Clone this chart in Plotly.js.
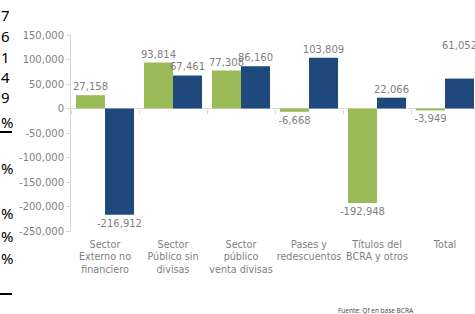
<!DOCTYPE html>
<html>
<head>
<meta charset="utf-8">
<script src="https://cdn.plot.ly/plotly-3.0.1.min.js"></script>
<style>
html,body{margin:0;padding:0;overflow:hidden;background:#fff;}
#chart{width:479px;height:314px;}
</style>
</head>
<body>
<div id="chart"></div>
<script>
var categories = ["Sector<br>Externo no<br>financiero", "Sector<br>Público sin<br>divisas", "Sector<br>público<br>venta divisas", "Pases y<br>redescuentos", "Títulos del<br>BCRA y otros", "Total"];
var seriesGreen = [27158, 93814, 77308, -6668, -192948, -3949];
var seriesBlue = [-216912, 67461, 86160, 103809, 22066, 61052];
var yTickVals = [150000, 100000, 50000, 0, -50000, -100000, -150000, -200000, -250000];
var yTickText = ["150,000", "100,000", "50,000", "0", "-50,000", "-100,000", "-150,000", "-200,000", "-250,000"];
var sideTexts = ["7", "6", "1", "4", "9", "%", "%", "%", "%", "%"];
var sideTextY = [15, 36, 57, 77, 97, 122, 168, 213, 236, 258];
var sideLinesY = [132, 294];

function fmt(v){ return v.toLocaleString('en-US'); }

var labelFont = {family: "DejaVu Sans", size: 10, color: "#7f7f7f"};

var greenText = seriesGreen.map(fmt);
var blueText = seriesBlue.map(function(v, i){ return i === seriesBlue.length - 1 ? "" : fmt(v); });

var traces = [
  {type: "bar", x: categories, y: seriesGreen, marker: {color: "#9bbb59"}, text: greenText,
   textposition: "outside", textfont: labelFont, constraintext: "none", cliponaxis: false, hoverinfo: "skip"},
  {type: "bar", x: categories, y: seriesBlue, marker: {color: "#1f497d"}, text: blueText,
   textposition: "outside", textfont: labelFont, constraintext: "none", cliponaxis: false, hoverinfo: "skip"},
  {type: "scatter", x: categories, y: categories.map(function(){return 0;}), xaxis: "x2", mode: "markers",
   marker: {opacity: 0}, hoverinfo: "skip", showlegend: false}
];

var L = 71, T = 35, PW = 408, PH = 196;
var annotations = [];
// Total blue label, placed higher as in the reference
var lastIdx = seriesBlue.length - 1;
annotations.push({x: categories[lastIdx], y: seriesBlue[lastIdx], xref: "x", yref: "y", text: fmt(seriesBlue[lastIdx]),
  showarrow: false, xshift: 14.5, yshift: 33, font: labelFont});
// source
annotations.push({xref: "paper", yref: "paper", x: 0, y: 1, xshift: 376 - L, yshift: T - 310, text: "Fuente: Qf en base BCRA",
  showarrow: false, font: {family: "Open Sans", size: 6.5, color: "#444"}, xanchor: "center", yanchor: "middle"});
// stray side text from neighbouring page content
for (var i = 0; i < sideTexts.length; i++) {
  annotations.push({xref: "paper", yref: "paper", x: 0, y: 1, xshift: -L - 1, yshift: T - sideTextY[i], text: sideTexts[i],
    showarrow: false, xanchor: "left", yanchor: "middle", font: {family: "Noto Sans", size: 15, color: "#000"}});
}
var shapes = sideLinesY.map(function(py){
  var yp = (T + PH - py) / PH;
  return {type: "line", xref: "paper", yref: "paper", x0: -L / PW, x1: (12 - L) / PW, y0: yp, y1: yp,
          line: {color: "#000", width: 2}};
});

var layout = {
  width: 479, height: 314,
  margin: {l: L, r: 0, t: T, b: 314 - T - PH, pad: 0},
  paper_bgcolor: "#fff", plot_bgcolor: "#fff",
  showlegend: false,
  barmode: "group", bargap: 0.147, bargroupgap: 0,
  xaxis: {type: "category", range: [-0.5, 5.5], showgrid: false, zeroline: false, showline: false, tickangle: 0,
          ticks: "", tickfont: {family: "DejaVu Sans", size: 9.6, color: "#7f7f7f"}, ticklabelstandoff: 6, fixedrange: true},
  xaxis2: {type: "category", overlaying: "x", anchor: "free", position: 0.625, range: [-0.5, 5.5],
           showgrid: false, zeroline: false, showline: false, showticklabels: false,
           ticks: "outside", tickson: "boundaries", ticklen: 4, tickcolor: "#d9d9d9", tickwidth: 1},
  yaxis: {range: [-250000, 150000], tickvals: yTickVals, ticktext: yTickText, showgrid: false,
          zeroline: true, zerolinecolor: "#d9d9d9", zerolinewidth: 1,
          showline: true, linecolor: "#d9d9d9", linewidth: 1, ticks: "outside", ticklen: 4, tickcolor: "#d9d9d9",
          tickfont: {family: "DejaVu Sans", size: 10, color: "#7f7f7f"}, fixedrange: true},
  annotations: annotations,
  shapes: shapes
};

Plotly.newPlot("chart", traces, layout, {displayModeBar: false, staticPlot: true});
</script>
</body>
</html>
